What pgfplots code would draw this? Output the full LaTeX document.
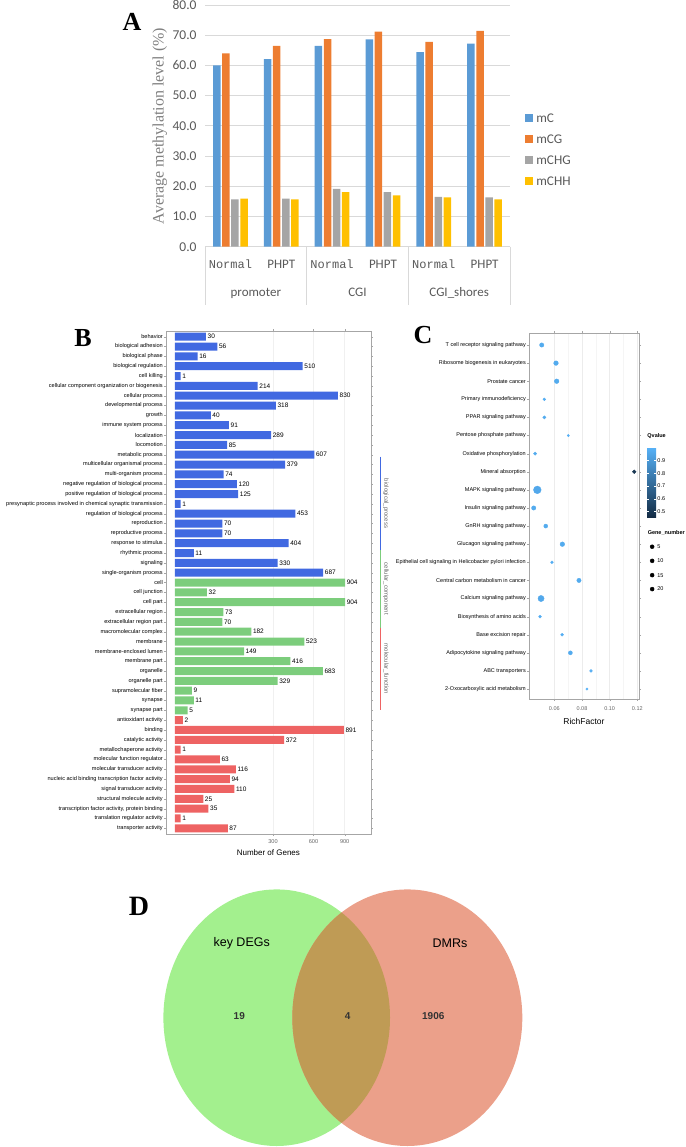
\documentclass[border=0pt]{standalone}
\usepackage{pgfplots}
\pgfplotsset{compat=1.18}
\usepackage{fontspec}
\setmainfont{Liberation Sans}
\newfontfamily\carlito{Carlito}
\newfontfamily\lmono{Liberation Mono}
\newfontfamily\lserif{Liberation Serif}
\definecolor{cmC}{HTML}{5B9BD5}
\definecolor{cmCG}{HTML}{ED7D31}
\definecolor{cmCHG}{HTML}{A5A5A5}
\definecolor{cmCHH}{HTML}{FFC000}
\definecolor{tgray}{HTML}{595959}
\definecolor{cBlue}{HTML}{4169E1}
\definecolor{cGreen}{HTML}{7CCD7C}
\definecolor{cRed}{HTML}{EE6363}
\definecolor{vGreen}{HTML}{A3F08E}
\definecolor{vRed}{HTML}{EBA08A}
\definecolor{vOver}{HTML}{BF9B55}
\pgfplotsset{sq/.style={legend image code/.code={\fill[#1] (0pt,-4.15pt) rectangle (8.3pt,4.15pt);}}}
\begin{document}
\begin{tikzpicture}
\path[use as bounding box] (0,0) rectangle (685pt,-1147pt);
% ---------------- Panel A
\begin{axis}[name=A, at={(205pt,-246.7pt)}, anchor=south west, scale only axis,
  width=305pt, height=241.7pt, ybar=1.6pt, bar width=7.5pt,
  xmin=0.5, xmax=6.5, ymin=0, ymax=80, clip=false,
  ytick={0,10,...,80}, ymajorgrids, grid style={draw=gray!30, line width=0.8pt},
  axis line style={draw=none}, major tick length=0pt,
  xtick={1,...,6},
  xticklabels={{\lmono\fontsize{12}{12}\selectfont Normal},PHPT,{\lmono\fontsize{12}{12}\selectfont Normal},PHPT,{\lmono\fontsize{12}{12}\selectfont Normal},PHPT},
  xticklabel style={font=\carlito\fontsize{13}{13}\selectfont, text=tgray, anchor=base, yshift=-21.5pt},
  /pgf/number format/assume math mode=true,
  yticklabel={\pgfmathprintnumber[fixed,fixed zerofill,precision=1]{\tick}},
  yticklabel style={font=\carlito\fontsize{13.5}{13.5}\selectfont, text=tgray, anchor=east, inner sep=0pt, xshift=-8.3pt},
  legend style={draw=none, fill=none, at={(1.049,0.552)}, anchor=north west,
    font=\carlito\fontsize{13.3}{13.3}\selectfont, text=tgray, row sep=12.5pt, inner sep=0pt,
    nodes={inner ysep=0pt, inner xsep=2.9pt, text depth=0pt}},
  legend cell align=left,
]
\addplot[fill=cmC, draw=none, sq] coordinates {(1,60.0) (2,62.1) (3,66.5) (4,68.6) (5,64.4) (6,67.2)};
\addplot[fill=cmCG, draw=none, sq] coordinates {(1,64.0) (2,66.5) (3,68.7) (4,71.2) (5,67.8) (6,71.4)};
\addplot[fill=cmCHG, draw=none, sq] coordinates {(1,15.7) (2,15.9) (3,19.1) (4,18.1) (5,16.5) (6,16.3)};
\addplot[fill=cmCHH, draw=none, sq] coordinates {(1,15.9) (2,15.7) (3,18.1) (4,17.0) (5,16.3) (6,15.7)};
\legend{mC,mCG,mCHG,mCHH}
\draw[gray!30, line width=0.8pt] (axis cs:0.5,0) -- (axis cs:0.5,-19.3);
\draw[gray!30, line width=0.8pt] (axis cs:2.5,0) -- (axis cs:2.5,-19.3);
\draw[gray!30, line width=0.8pt] (axis cs:4.5,0) -- (axis cs:4.5,-19.3);
\draw[gray!30, line width=0.8pt] (axis cs:6.5,0) -- (axis cs:6.5,-19.3);
\node[font=\carlito\fontsize{13}{13}\selectfont, text=tgray, anchor=base] at (axis cs:1.5,-16.4) {promoter};
\node[font=\carlito\fontsize{13}{13}\selectfont, text=tgray, anchor=base] at (axis cs:3.5,-16.4) {CGI};
\node[font=\carlito\fontsize{13}{13}\selectfont, text=tgray, anchor=base] at (axis cs:5.5,-16.4) {CGI\_shores};
\end{axis}
\node[rotate=90, font=\lserif\fontsize{16}{16}\selectfont, text=gray] at (159.8pt,-126pt) {Average methylation level (\%)};
\node[font=\lserif\bfseries\fontsize{26}{26}\selectfont] at (132pt,-21.7pt) {A};
\node[font=\lserif\bfseries\fontsize{26}{26}\selectfont] at (83pt,-338pt) {B};
\node[font=\lserif\bfseries\fontsize{26}{26}\selectfont] at (423pt,-335pt) {C};
\node[font=\lserif\bfseries\fontsize{28}{28}\selectfont] at (139pt,-906.7pt) {D};
% ---------------- Panel B
\begin{axis}[name=B, at={(166pt,-834pt)}, anchor=south west, scale only axis,
  width=204.7pt, height=503pt, xbar, bar width=8pt, y dir=reverse,
  ymin=0.42, ymax=51.58, xmin=-1.59, xmax=34.6, clip=false,
  ytick={1,...,51},
  yticklabels={behavior,biological adhesion,biological phase,biological regulation,cell killing,cellular component organization or biogenesis,cellular process,developmental process,growth,immune system process,localization,locomotion,metabolic process,multicellular organismal process,multi-organism process,negative regulation of biological process,positive regulation of biological process,presynaptic process involved in chemical synaptic transmission,regulation of biological process,reproduction,reproductive process,response to stimulus,rhythmic process,signaling,single-organism process,cell,cell junction,cell part,extracellular region,extracellular region part,macromolecular complex,membrane,membrane-enclosed lumen,membrane part,organelle,organelle part,supramolecular fiber,synapse,synapse part,antioxidant activity,binding,catalytic activity,metallochaperone activity,molecular function regulator,molecular transducer activity,nucleic acid binding transcription factor activity,signal transducer activity,structural molecule activity,{transcription factor activity, protein binding},translation regulator activity,transporter activity},
  xtick={17.3205,24.4949,30}, xticklabels={300,600,900},
  xmajorgrids, grid style={draw=gray!12},
  axis line style={draw=gray!70},
  tick align=outside, major tick length=2pt, tick style={draw=gray!70},
  /pgf/number format/assume math mode=true,
  yticklabel style={font=\fontsize{5.6}{5.6}\selectfont, inner sep=1pt},
  xticklabel style={font=\fontsize{5.6}{5.6}\selectfont, text=gray!80!black},
  xlabel={Number of Genes}, xlabel style={font=\fontsize{8}{8}\selectfont, inner sep=0pt, yshift=-3pt},
  nodes near coords style={font=\fontsize{6.5}{6.5}\selectfont, anchor=west, inner sep=1.5pt},
]
\addplot[fill=cBlue, draw=none, bar shift=0pt, nodes near coords, point meta=\thisrow{n}]
 table[x expr={sqrt(\thisrow{n})}, y=i] {
i n
1 30
2 56
3 16
4 510
5 1
6 214
7 830
8 318
9 40
10 91
11 289
12 85
13 607
14 379
15 74
16 120
17 125
18 1
19 453
20 70
21 70
22 404
23 11
24 330
25 687
};
\addplot[fill=cGreen, draw=none, bar shift=0pt, nodes near coords, point meta=\thisrow{n}]
 table[x expr={sqrt(\thisrow{n})}, y=i] {
i n
26 904
27 32
28 904
29 73
30 70
31 182
32 523
33 149
34 416
35 683
36 329
37 9
38 11
39 5
};
\addplot[fill=cRed, draw=none, bar shift=0pt, nodes near coords, point meta=\thisrow{n}]
 table[x expr={sqrt(\thisrow{n})}, y=i] {
i n
40 2
41 891
42 372
43 1
44 63
45 116
46 94
47 110
48 25
49 35
50 1
51 87
};
\draw[cBlue, line width=0.8pt] (axis cs:36.4,13.2) -- (axis cs:36.4,22.7);
\draw[cGreen, line width=0.8pt] (axis cs:36.4,22.7) -- (axis cs:36.4,30.6);
\draw[cRed, line width=0.8pt] (axis cs:36.4,30.6) -- (axis cs:36.4,39.0);
\node[rotate=-90, font=\fontsize{6}{6}\selectfont, text=gray!80!black] at (axis cs:37.3,17.95) {biological\_process};
\node[rotate=-90, font=\fontsize{6}{6}\selectfont, text=gray!80!black] at (axis cs:37.3,26.65) {cellular\_component};
\node[rotate=-90, font=\fontsize{6}{6}\selectfont, text=gray!80!black] at (axis cs:37.3,34.8) {molecular\_function};
\end{axis}
% ---------------- Panel C
\begin{axis}[name=C, at={(529pt,-699pt)}, anchor=south west, scale only axis,
  width=110pt, height=366pt, y dir=reverse, clip=false,
  ymin=0.337, ymax=20.55, xmin=0.0417, xmax=0.1212,
  ytick={1,...,20},
  yticklabels={T cell receptor signaling pathway,Ribosome biogenesis in eukaryotes,Prostate cancer,Primary immunodeficiency,PPAR signaling pathway,Pentose phosphate pathway,Oxidative phosphorylation,Mineral absorption,MAPK signaling pathway,Insulin signaling pathway,GnRH signaling pathway,Glucagon signaling pathway,Epithelial cell signaling in Helicobacter pylori infection,Central carbon metabolism in cancer,Calcium signaling pathway,Biosynthesis of amino acids,Base excision repair,Adipocytokine signaling pathway,ABC transporters,2-Oxocarboxylic acid metabolism},
  xtick={0.06,0.08,0.10,0.12}, minor x tick num=1,
  xmajorgrids, xminorgrids, major grid style={draw=gray!15}, minor grid style={draw=gray!8},
  axis line style={draw=gray!70},
  tick align=outside, major tick length=2pt, minor tick length=0pt, tick style={draw=gray!70},
  /pgf/number format/assume math mode=true,
  xticklabel={\pgfmathprintnumber[fixed,fixed zerofill,precision=2]{\tick}},
  yticklabel style={font=\fontsize{5.5}{5.5}\selectfont, inner sep=1pt},
  xticklabel style={font=\fontsize{5.5}{5.5}\selectfont, text=gray!80!black, yshift=-2pt},
  xlabel={RichFactor}, xlabel style={font=\fontsize{8.5}{8.5}\selectfont, inner sep=0pt, yshift=-4pt},
  colormap={qv}{rgb255=(19,43,67) rgb255=(86,177,247)},
  point meta min=0.45, point meta max=1.0,
  colorbar,
  colorbar style={at={(parent axis.north east)}, anchor=north west, xshift=-0.3pt, yshift=-114.7pt,
    scale only axis, width=9pt, height=70pt, ytick={0.5,0.6,0.7,0.8,0.9},
    axis line style={draw=none}, major tick length=2pt, tick style={draw=white},
    /pgf/number format/assume math mode=true,
    yticklabel={\pgfmathprintnumber[fixed,fixed zerofill,precision=1]{\tick}},
    yticklabel style={font=\fontsize{5.5}{5.5}\selectfont, inner sep=1pt},
    title={\textbf{Qvalue}}, title style={font=\fontsize{5.5}{5.5}\selectfont, at={(0,1)}, anchor=south west, inner sep=0pt, yshift=3pt}},
]
\addplot[scatter, only marks, mark=*, point meta=\thisrow{q},
  scatter/use mapped color={draw=mapped color, fill=mapped color},
  visualization depends on={0.82*sqrt(\thisrow{g}) \as \msz},
  scatter/@pre marker code/.append style={/tikz/mark size=\msz}]
 table {
x y g q
0.0509 1 7 0.97
0.0612 2 8 0.97
0.0617 3 8 0.97
0.0528 4 3 0.98
0.0528 5 4 0.97
0.0701 6 2 0.99
0.0461 7 4 0.97
0.1178 8 5 0.50
0.0477 9 22 0.96
0.0451 10 7 0.97
0.0538 11 6 0.97
0.0658 12 8 0.97
0.0583 13 3 0.98
0.0778 14 7 0.97
0.0504 15 14 0.96
0.0497 16 3 0.98
0.0656 17 3 0.98
0.0716 18 6 0.97
0.0865 19 3 0.98
0.0836 20 2 1.00
};
\addplot[scatter, only marks, mark=*, point meta=\thisrow{g},
  scatter/use mapped color={draw=black, fill=black},
  visualization depends on={0.82*sqrt(\thisrow{g}) \as \msz},
  scatter/@pre marker code/.append style={/tikz/mark size=\msz},
  nodes near coords, nodes near coords style={anchor=west, xshift=5pt, inner sep=0pt, font=\fontsize{5.5}{5.5}\selectfont}]
 table {
x y g
0.1307 12.14 5
0.1307 12.92 10
0.1307 13.71 15
0.1307 14.48 20
};
\node[anchor=west, inner sep=0pt, font=\bfseries\fontsize{5.5}{5.5}\selectfont] at (axis cs:0.1274,11.39) {Gene\_number};
\end{axis}
% ---------------- Panel D
\begin{axis}[name=D, at={(0pt,-1147pt)}, anchor=south west, scale only axis,
  width=685pt, height=1147pt, xmin=0, xmax=685, ymin=-1147, ymax=0, hide axis, clip=false]
\fill[vGreen] (axis cs:276.7,-1017.7) ellipse [x radius=113.3pt, y radius=128.3pt];
\fill[vRed] (axis cs:407.3,-1017.7) ellipse [x radius=115pt, y radius=128.3pt];
\begin{scope}
\clip (axis cs:276.7,-1017.7) ellipse [x radius=113.3pt, y radius=128.3pt];
\fill[vOver] (axis cs:407.3,-1017.7) ellipse [x radius=115pt, y radius=128.3pt];
\end{scope}
\node[font=\fontsize{12.5}{12.5}\selectfont] at (axis cs:241.7,-943.3) {key DEGs};
\node[font=\fontsize{12.5}{12.5}\selectfont] at (axis cs:450,-943.3) {DMRs};
\node[font=\bfseries\fontsize{10}{10}\selectfont, text=black!80] at (axis cs:239.3,-1016) {19};
\node[font=\bfseries\fontsize{10}{10}\selectfont, text=black!80] at (axis cs:347.7,-1016) {4};
\node[font=\bfseries\fontsize{10}{10}\selectfont, text=black!80] at (axis cs:433.3,-1016) {1906};
\end{axis}
\end{tikzpicture}
\end{document}
